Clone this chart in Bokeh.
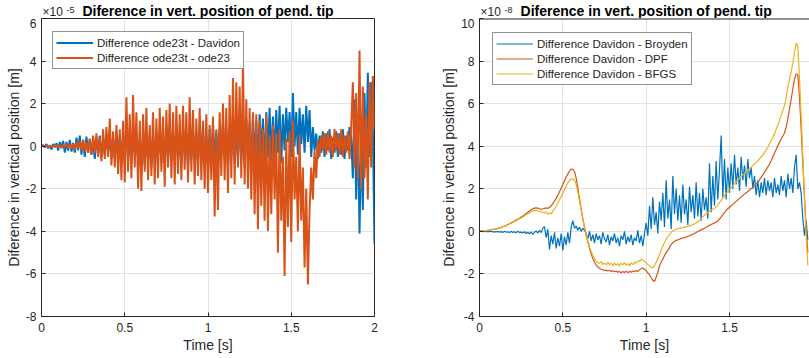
import numpy as np
from bokeh.plotting import figure
from bokeh.models import Range1d, FixedTicker, Label, Legend, LegendItem, Span
from bokeh.layouts import row, column
from bokeh.embed import file_html
from bokeh.resources import INLINE

# ---------------- data (values in units of the axis exponent) ----------------
# left panel: x1e-5 m, sampled every 0.01 s from 0 to 2 s
t_left = np.round(np.arange(201) * 0.01, 2)
diff_davidon = [
    0, 0.05, -0.05, 0.1, -0.1, 0.05, -0.15, 0.1, -0.05, 0.15,
    -0.2, 0.2, -0.1, 0.25, -0.3, 0.2, -0.2, 0.3, -0.25, 0.15,
    -0.3, 0.4, -0.2, 0.5, -0.4, 0.3, -0.5, 0.45, -0.3, 0.35,
    -0.4, 0.3, -0.6, 0.4, -0.3, 0.5, -0.5, 0.3, -0.4, 0.6,
    -0.3, 0.5, -0.6, 0.4, -0.5, 0.7, -0.4, 0.5, -0.7, 0.6,
    -0.5, 0.8, -0.6, 0.5, -0.8, 0.6, -0.4, 0.7, -0.6, 0.4,
    -0.7, 0.5, -0.9, 0.3, -0.6, 0.6, -1.0, 0.4, -0.5, 0.7,
    -0.4, 0.6, -0.8, 0.5, -0.3, 0.9, -0.6, 0.4, -0.7, 0.6,
    -0.5, 0.8, -0.6, 0.5, -0.9, 0.7, -0.4, 0.6, -1.0, 0.5,
    -0.6, 0.8, -0.5, 0.6, -0.8, 0.7, -0.4, 0.9, -0.7, 0.5,
    -0.9, 0.8, -0.5, 1.0, -0.6, 0.7, -0.8, 0.9, -0.4, 1.1,
    -0.6, 0.8, -1.0, 0.9, -0.5, 1.0, -0.8, 0.7, -0.6, 1.2,
    -0.7, 0.9, -1.0, 1.3, -0.5, 1.1, -0.8, 1.4, -0.6, 1.2,
    -0.9, 1.5, -0.4, 1.3, -1.0, 1.6, -0.5, 1.8, -0.7, 1.4,
    -0.6, 1.7, -0.3, 1.9, -0.8, 1.5, -0.2, 1.8, 0.2, 1.6,
    -0.5, 2.5, 0.0, 1.6, -0.4, 1.8, 0.1, 1.5, -0.3, 1.9,
    0.2, 1.7, -0.5, 0.9, -0.2, 0.6, -0.6, 0.5, -0.3, 0.7,
    -0.5, 0.6, -0.2, 0.8, -0.6, 0.4, -0.3, 0.7, -0.5, 0.6,
    -0.4, 0.8, -0.6, 0.5, -0.2, 0.9, 0.4, -1.5, 2.2, -2.5,
    1.5, -4.1, 0.5, -3.0, 2.5, -1.0, 3.45, -0.5, 3.0, 0.8,
    -4.6,
]
diff_ode23 = [
    0, 0.02, -0.02, 0.03, -0.03, 0.02, -0.04, 0.03, -0.02, 0.04,
    -0.05, 0.05, -0.06, 0.08, -0.05, 0.1, -0.08, 0.1, -0.12, 0.1,
    -0.15, 0.2, -0.1, 0.25, -0.2, 0.3, -0.25, 0.2, -0.3, 0.35,
    -0.4, 0.5, -0.3, 0.6, -0.5, 0.4, -0.7, 0.8, -0.6, 0.9,
    -0.5, 1.3, -0.9, 0.7, -1.0, 1.0, -1.3, 0.8, -1.6, 1.2,
    -1.7, 2.3, -1.2, 1.5, -1.5, 2.4, -1.0, 1.6, -2.0, 1.2,
    -2.1, 1.5, -1.2, 1.8, -1.6, 1.0, -1.4, 1.6, -1.8, 1.3,
    -1.5, 1.8, -1.2, 1.4, -1.9, 1.7, -1.0, 2.0, -1.5, 1.6,
    -1.8, 1.9, -1.3, 1.5, -1.6, 1.9, -1.1, 1.6, -1.7, 2.3,
    -1.2, 1.7, -1.8, 1.3, -1.4, 1.8, -1.6, 1.2, -2.0, 1.5,
    -2.2, 1.0, -1.6, 1.4, -3.3, 0.8, -3.0, 1.6, -1.4, 2.0,
    -1.6, 1.8, -2.2, 2.4, -1.5, 3.2, -1.8, 3.0, -1.0, 2.8,
    -1.5, 4.0, -1.8, 2.2, -2.0, 1.8, -2.5, 1.6, -3.2, 1.5,
    -3.9, 1.2, -2.8, 0.8, -3.5, 1.5, -4.0, 0.5, -3.2, 1.0,
    -2.5, 0.6, -5.0, 0.8, -3.5, -0.5, -6.1, 0.4, -3.8, 0.7,
    -4.5, 1.2, -2.5, -0.5, -4.0, 0.5, -3.5, -1.0, -5.7, -2.0,
    -6.5, -3.0, -1.0, -2.5, -0.2, -1.5, 0.3, -0.5, 0.5, -0.2,
    0.6, -0.4, 0.7, -0.3, 0.5, -0.5, 0.8, -0.2, 0.6, -0.4,
    0.8, -0.5, 0.5, -0.3, 0.7, -0.6, 0.9, 3.0, -1.0, 2.5,
    -1.5, 4.5, -2.0, 2.8, -1.5, 1.5, -2.5, 3.0, -1.0, 3.3,
    0.8,
]

# right panel: x1e-8 m, sampled every 0.01 s from 0 to 1.97 s
t_right = np.round(np.arange(198) * 0.01, 2)
diff_broyden = [
    0, 0.00, -0.01, 0.01, -0.02, 0.00, -0.02, 0.01, -0.03, -0.01,
    -0.03, 0.00, -0.04, -0.01, -0.05, 0.01, -0.04, -0.02, -0.06, 0.00,
    -0.05, -0.02, -0.07, 0.01, -0.06, -0.03, -0.08, -0.02, -0.10, -0.04,
    -0.12, -0.03, -0.14, -0.05, 0.02, -0.08, 0.05, -0.06, 0.15, 0.22,
    -0.30, 0.10, -0.85, -0.20, -0.60, -0.05, -0.80, -0.30, -0.70, -0.10,
    -0.90, -0.25, -0.65, -0.05, -0.55, 0.20, 0.50, 0.15, 0.25, 0.05,
    0.20, 0.00, 0.15, 0.05, -0.10, -0.35, 0.00, -0.45, -0.15, -0.55,
    -0.10, -0.40, -0.20, -0.60, -0.05, -0.35, -0.50, -0.15, -0.65, -0.25,
    -0.45, -0.10, -0.55, -0.30, -0.70, -0.20, -0.40, 0.00, -0.60, -0.25,
    -0.50, -0.15, -0.65, -0.30, -0.45, 0.05, -0.55, -0.20, -0.70, -0.10,
    0.40, -0.20, 1.20, 0.10, 1.60, 0.30, 0.90, -0.10, 1.40, 0.50,
    1.80, 0.20, 2.40, 0.60, 1.50, 0.10, 2.60, 0.80, 2.00, 0.50,
    1.70, 0.40, 2.20, 0.80, 1.50, 0.30, 2.10, 0.90, 1.70, 0.60,
    2.30, 0.70, 1.80, 0.50, 2.00, 1.00, 1.60, 0.60, 3.20, 0.90,
    2.60, 1.20, 3.30, 1.50, 2.90, 4.50, 1.60, 3.40, 1.50, 3.00,
    1.80, 3.20, 2.00, 3.60, 2.20, 3.00, 1.90, 3.50, 2.40, 3.10,
    2.10, 3.40, 2.50, 3.00, 2.00, 2.60, 1.70, 2.40, 1.60, 2.30,
    1.80, 2.50, 1.70, 2.40, 1.90, 2.30, 1.60, 2.50, 1.80, 2.20,
    1.70, 2.60, 1.90, 2.40, 1.60, 2.70, 2.00, 2.50, 1.80, 3.00,
    3.60, 2.00, 2.30, 1.80, 0.60, -0.20, 0.50, -0.40,
]
diff_dpf = [
    0, 0.01, 0.02, 0.03, 0.04, 0.05, 0.06, 0.08, 0.09, 0.10,
    0.12, 0.14, 0.16, 0.19, 0.22, 0.25, 0.28, 0.32, 0.36, 0.40,
    0.44, 0.48, 0.53, 0.58, 0.62, 0.67, 0.72, 0.78, 0.84, 0.90,
    0.96, 1.01, 1.06, 1.09, 1.10, 1.09, 1.06, 1.04, 1.05, 1.08,
    1.10, 1.08, 1.13, 1.20, 1.30, 1.42, 1.55, 1.70, 1.86, 2.03,
    2.20, 2.38, 2.55, 2.70, 2.83, 2.92, 2.93, 2.80, 2.50, 2.05,
    1.55, 1.05, 0.60, 0.20, -0.18, -0.50, -0.80, -1.05, -1.28, -1.45,
    -1.58, -1.67, -1.73, -1.78, -1.80, -1.84, -1.82, -1.86, -1.83, -1.88,
    -1.85, -1.90, -1.86, -1.92, -1.88, -1.95, -1.89, -1.93, -1.87, -1.94,
    -1.88, -1.92, -1.86, -1.90, -1.84, -1.88, -1.80, -1.76, -1.72, -1.78,
    -1.85, -1.95, -2.05, -2.18, -2.30, -2.36, -2.15, -1.92, -1.62, -1.45,
    -1.30, -1.15, -1.00, -0.88, -0.75, -0.62, -0.53, -0.48, -0.42, -0.40,
    -0.37, -0.33, -0.31, -0.28, -0.27, -0.23, -0.21, -0.17, -0.14, -0.10,
    -0.05, -0.01, 0.03, 0.07, 0.11, 0.15, 0.19, 0.24, 0.28, 0.32,
    0.36, 0.40, 0.43, 0.50, 0.58, 0.68, 0.77, 0.88, 0.99, 1.06,
    1.13, 1.20, 1.27, 1.34, 1.41, 1.48, 1.55, 1.62, 1.68, 1.75,
    1.81, 1.87, 1.94, 2.01, 2.07, 2.14, 2.22, 2.30, 2.42, 2.54,
    2.65, 2.78, 2.90, 3.03, 3.16, 3.32, 3.50, 3.68, 3.85, 4.02,
    4.18, 4.34, 4.48, 4.62, 4.90, 5.30, 5.75, 6.20, 6.70, 7.15,
    7.40, 7.35, 6.30, 4.80, 3.20, 1.60, 0.20, -1.00,
]
diff_bfgs = [
    0, 0.01, 0.02, 0.03, 0.04, 0.05, 0.06, 0.07, 0.09, 0.10,
    0.11, 0.13, 0.15, 0.18, 0.21, 0.24, 0.27, 0.30, 0.34, 0.38,
    0.42, 0.46, 0.50, 0.55, 0.59, 0.63, 0.68, 0.73, 0.78, 0.83,
    0.88, 0.92, 0.96, 0.98, 0.99, 0.97, 0.94, 0.92, 0.90, 0.86,
    0.92, 0.80, 0.88, 0.82, 0.95, 1.05, 1.18, 1.32, 1.48, 1.63,
    1.80, 1.96, 2.12, 2.27, 2.38, 2.46, 2.47, 2.40, 2.20, 1.85,
    1.42, 1.00, 0.58, 0.20, -0.15, -0.45, -0.72, -0.95, -1.15, -1.30,
    -1.40, -1.46, -1.50, -1.42, -1.55, -1.48, -1.58, -1.45, -1.56, -1.50,
    -1.62, -1.48, -1.60, -1.52, -1.63, -1.50, -1.58, -1.46, -1.60, -1.52,
    -1.62, -1.48, -1.56, -1.44, -1.50, -1.38, -1.42, -1.30, -1.36, -1.40,
    -1.48, -1.55, -1.62, -1.68, -1.72, -1.62, -1.45, -1.28, -1.08, -0.88,
    -0.70, -0.52, -0.37, -0.25, -0.15, -0.06, 0.03, 0.06, 0.10, 0.12,
    0.16, 0.15, 0.19, 0.18, 0.23, 0.22, 0.27, 0.28, 0.33, 0.35,
    0.40, 0.45, 0.52, 0.60, 0.68, 0.76, 0.83, 0.88, 0.94, 0.99,
    1.04, 1.09, 1.15, 1.25, 1.35, 1.46, 1.56, 1.67, 1.78, 1.87,
    1.96, 2.05, 2.14, 2.23, 2.32, 2.41, 2.50, 2.58, 2.65, 2.72,
    2.80, 2.87, 2.95, 3.02, 3.10, 3.17, 3.24, 3.30, 3.40, 3.50,
    3.60, 3.70, 3.82, 3.95, 4.10, 4.25, 4.40, 4.60, 4.80, 5.00,
    5.20, 5.45, 5.68, 5.90, 6.30, 6.75, 7.15, 7.50, 7.90, 8.40,
    8.85, 8.70, 7.20, 5.40, 3.50, 1.50, -0.20, -1.60,
]

x_ticks = [0, 0.5, 1, 1.5, 2]
x_tick_labels = ["0", "0.5", "1", "1.5", "2"]
y_ticks_left = [-8, -6, -4, -2, 0, 2, 4, 6]
y_ticks_right = [-4, -2, 0, 2, 4, 6, 8, 10]

title_text = "Diference in vert. position of pend. tip"
x_label = "Time [s]"
y_label = "Diference in vertical position [m]"

# ---------------- styling ----------------
FONT = "Liberation Sans"
TXT = "#262626"
C1, C2, C3 = "#0072BD", "#D95319", "#EDB120"
HEAD_H = 18
MAIN_H = 340


def style_axis(ax, ticks):
    ax.ticker = FixedTicker(ticks=ticks)
    ax.minor_tick_line_color = None
    ax.major_tick_in = 4
    ax.major_tick_out = 0
    ax.major_tick_line_color = TXT
    ax.axis_line_color = TXT
    ax.axis_line_width = 1
    ax.major_label_text_font = FONT
    ax.major_label_text_color = TXT
    ax.major_label_text_font_size = "12px"
    ax.axis_label_text_font = FONT
    ax.axis_label_text_color = TXT
    ax.axis_label_text_font_size = "14px"
    ax.axis_label_text_font_style = "normal"


def make_fig(width, xmax, ymin, ymax, yticks, mbl, mbr, boxed):
    p = figure(width=width, height=MAIN_H, x_range=Range1d(0, xmax),
               y_range=Range1d(ymin, ymax), output_backend="svg",
               toolbar_location=None, min_border=0, min_border_top=0,
               min_border_bottom=42, min_border_left=mbl,
               min_border_right=mbr)
    p.background_fill_color = "white"
    p.border_fill_color = "white"
    xax = p.below[0]
    yax = p.left[0]
    style_axis(xax, x_ticks)
    xax.major_label_overrides = {float(k): v for k, v in zip(x_ticks, x_tick_labels)}
    xax.major_label_standoff = 6
    xax.axis_label = x_label
    xax.axis_label_standoff = 2
    style_axis(yax, yticks)
    yax.major_label_overrides = {float(k): str(k) for k in yticks}
    yax.major_label_standoff = 5
    yax.axis_label = y_label
    yax.axis_label_standoff = 1
    p.xgrid.grid_line_color = "#e2e2e2"
    p.ygrid.grid_line_color = "#e2e2e2"
    p.xgrid.ticker = FixedTicker(ticks=x_ticks)
    p.ygrid.ticker = FixedTicker(ticks=yticks)
    if boxed:
        p.outline_line_color = TXT
        p.outline_line_width = 1
        p.outline_line_alpha = 1
    else:
        # top border only (the axes box runs past the window on the right)
        p.outline_line_color = None
        p.add_layout(Span(location=ymax, dimension="width",
                          line_color=TXT, line_width=2))
    return p


def make_header(main, width, mbl, mbr, expo):
    h = figure(width=width, height=HEAD_H, x_range=main.x_range,
               y_range=Range1d(0, HEAD_H), output_backend="svg",
               toolbar_location=None, x_axis_location=None,
               y_axis_location=None, min_border=0, min_border_top=0,
               min_border_bottom=0, min_border_left=mbl,
               min_border_right=mbr)
    h.outline_line_color = None
    h.grid.visible = False
    h.background_fill_color = "white"
    h.border_fill_color = "white"
    h.add_layout(Label(x=1.0, y=7.2, text=title_text,
                       text_align="center", text_baseline="middle",
                       text_font=FONT, text_font_size="14px",
                       text_font_style="bold", text_color="black"))
    h.add_layout(Label(x=0, y=6.2, x_offset=1, text="\u00d710",
                       text_align="left", text_baseline="middle",
                       text_font=FONT, text_font_size="12px", text_color=TXT))
    h.add_layout(Label(x=0, y=8.6, x_offset=25, text=expo,
                       text_align="left", text_baseline="middle",
                       text_font=FONT, text_font_size="9px", text_color=TXT))
    return h


def add_legend(p, items, loc):
    leg = Legend(items=[LegendItem(label=l, renderers=[r]) for l, r in items],
                 location=loc)
    leg.label_text_font = FONT
    leg.label_text_font_size = "11.5px"
    leg.label_text_color = TXT
    leg.label_height = 15
    leg.glyph_height = 15
    leg.glyph_width = 37
    leg.label_standoff = 4
    leg.spacing = 0
    leg.padding = 3
    leg.margin = 0
    leg.border_line_color = TXT
    leg.border_line_width = 1
    leg.background_fill_color = "white"
    leg.background_fill_alpha = 1
    p.add_layout(leg)


L_W, L_MBL, L_MBR = 420, 41, 46
R_W, R_MBL, R_MBR = 389, 59, 0

# left panel
p1 = make_fig(L_W, 2, -8, 6, y_ticks_left, L_MBL, L_MBR, True)
r1 = p1.line(t_left, diff_davidon, line_color=C1, line_width=2)
r2 = p1.line(t_left, diff_ode23, line_color=C2, line_width=2)
add_legend(p1, [("Difference ode23t - Davidon", r1),
                ("Difference ode23t - ode23", r2)], (11, 247))
h1 = make_header(p1, L_W, L_MBL, L_MBR, "-5")

# right panel
p2 = make_fig(R_W, 1.98, -4, 10, y_ticks_right, R_MBL, R_MBR, False)
q1 = p2.line(t_right, diff_broyden, line_color=C1, line_width=1.2)
q2 = p2.line(t_right, diff_dpf, line_color=C2, line_width=1.2)
q3 = p2.line(t_right, diff_bfgs, line_color=C3, line_width=1.2)
add_legend(p2, [("Difference Davidon - Broyden", q1),
                ("Difference Davidon - DPF", q2),
                ("Difference Davidon - BFGS", q3)], (13, 231))
h2 = make_header(p2, R_W, R_MBL, R_MBR, "-8")

layout = column(row(h1, h2), row(p1, p2))
open("out.html", "w").write(file_html(layout, INLINE))
